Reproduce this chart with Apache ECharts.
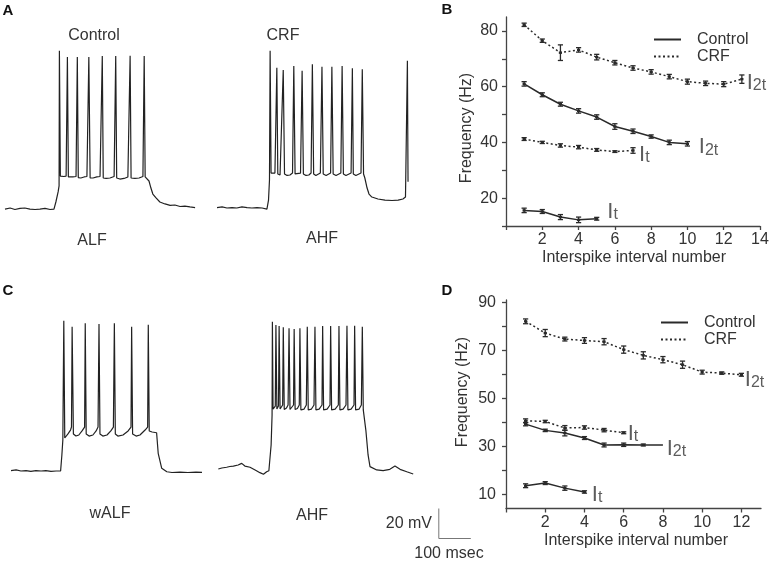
<!DOCTYPE html>
<html><head><meta charset="utf-8">
<script src="https://cdn.jsdelivr.net/npm/echarts@6/dist/echarts.min.js"></script>
<style>html,body{margin:0;padding:0;background:#fff}#c{width:777px;height:562px}</style>
</head><body><div id="c"></div>
<script>
// ---------- Voltage traces: [time (ms), membrane potential (mV)] ----------
const traceA_Control = [[0,-72.7],[16,-72],[31,-73],[47,-72.3],[62,-72],[78,-72.7],[94,-73],[109,-72.7],[125,-72.3],[141,-73],[153,-72.7],
[159,-68],[166,-61.3],[169,-57.3],[170,32.9],[173,-50.7],[178,-51.7],[184,-51],[191,-50.7],[195,28.7],[198,-51.3],[203,-52],[212,-51.3],[222,-51],[226,28.7],[229,-51.7],[237,-52],[247,-51.3],[256,-51],[262,28.7],[266,-52],[275,-52],[287,-51.3],[297,-51],[304,29.3],[307,-52],[316,-52.3],[328,-52],[341,-51],[346,29.3],[349,-52],[359,-52.7],[372,-52.3],[384,-51.3],[391,29.5],[394,-52],[406,-52.3],[419,-52],[431,-51],[435,29.3],[438,-51.3],[444,-52],[450,-54],[456,-58.7],[462,-62.7],[472,-65.3],[484,-68],[500,-69.3],[516,-70.3],[531,-70],[547,-71],[562,-70.7],[578,-71.3],[594,-71.7]];
const traceA_CRF = [[0,-71.7],[16,-71.3],[31,-72],[47,-71.7],[62,-72],[78,-71.3],[94,-71.7],[109,-72],[125,-71.7],[141,-72],[156,-72.7],[161,-66.7],[164,-53.3],[166,32.9],[169,-48.7],[175,-49.3],[181,-48.7],[187,21.5],[190,-49.3],[197,-50],[203,-49],[207,20],[211,-49.3],[219,-50.3],[228,-50],[236,-48.7],[240,22.7],[244,-49.3],[250,-50.3],[261,-48.7],[266,19.5],[270,-49.3],[278,-50.3],[287,-50],[294,-48.7],[298,23.8],[302,-49.3],[309,-50.3],[323,-48.7],[328,22.2],[332,-49.3],[341,-50.3],[355,-48.7],[359,22.2],[363,-49.3],[372,-50.3],[387,-48.7],[391,22.7],[395,-49.3],[403,-50.3],[419,-48.7],[423,21.1],[426,-49.3],[434,-50.3],[450,-48.7],[454,20.5],[458,-49.3],[462,-52],[469,-58.7],[475,-62.7],[484,-64.7],[503,-66],[525,-66.7],[547,-67],[566,-66.7],[581,-66],[589,-64.7],[595,26.2],[597,-54.5]];
const traceC_Control = [[0,-73.8],[16,-73.3],[31,-74],[47,-73.7],[62,-74.3],[78,-73.7],[94,-74],[109,-73.7],[125,-74.3],[141,-74],[155,-74],[159,-63.3],[162,-53.3],[165,26.2],[168,-52],[172,-51.3],[178,-49.3],[186,-46.7],[189,-44.7],[191,22.2],[195,-49.3],[203,-50.7],[212,-50],[222,-47.3],[230,-44.7],[232,24.5],[235,-49.3],[244,-50.7],[256,-50],[266,-47.3],[272,-44.7],[275,24],[278,-49.3],[287,-50.7],[300,-50],[312,-47.3],[320,-44.7],[323,24.5],[326,-49.3],[334,-50.7],[350,-50],[366,-47.3],[375,-44.7],[377,22.2],[380,-49.3],[391,-50.7],[403,-50],[419,-46.7],[427,-44.7],[429,23.5],[432,-47.3],[441,-48],[455,-48.5],[460,-62.2],[471,-72.2],[487,-74.5],[503,-75],[528,-74.7],[553,-75],[578,-74.7],[597,-74.9]];
const traceC_CRF = [[1,-72.7],[12,-72],[27,-71.5],[37,-71],[48,-70.7],[63,-70],[74,-68.9],[84,-70.7],[100,-71.5],[116,-73.3],[131,-75.1],[142,-76.2],[152,-74.5],[159,-73.8],[166,-56.7],[169,-36.7],
[170,25.5],[172,-32.7],[179,-30.7],[181,23.3],[184,-32.7],[189,-30.7],[191,22.7],[194,-32.7],[202,-30],[204,21.8],[207,-33],[214,-32],[219,-30],[222,21.1],[225,-33],[231,-32.3],[236,-30],[238,20.7],[241,-33],[248,-32.3],[254,-30],[256,21.1],[259,-33.3],[269,-32.7],[276,-30],[279,22.2],[282,-33.3],[292,-32.7],[300,-30],[303,22.2],[306,-33.3],[316,-32.7],[325,-30],[327,22.7],[330,-33.3],[341,-32.7],[350,-30],[352,22.7],[355,-33.3],[366,-32.7],[376,-30],[378,22.7],[381,-33.3],[391,-32.7],[400,-30],[403,22.9],[406,-33.3],[416,-32.7],[425,-30],[427,22.9],[430,-33.3],[441,-32.7],[448,-30],[451,22.2],[454,-33.3],[458,-34],[462,-46.7],[469,-63.3],[475,-71.1],[496,-73.3],[516,-73.8],[537,-72.9],[553,-70.7],[569,-72.9],[590,-74.5],[610,-76]];
// scale bar: 100 ms x 20 mV
const scaleBarMs = 100, scaleBarMv = 20;
const scaleBarCorner = [690, -119];

// ---------- Panel B: frequency (Hz) per interspike interval (1..n) ----------
const bCtrlI2t    = [61.0, 57.1, 53.7, 51.3, 49.1, 45.7, 44.0, 42.1, 40.0, 39.5];
const bCtrlI2tErr = [0.8, 0.7, 0.7, 0.8, 0.8, 1.0, 0.8, 0.6, 0.8, 0.8];
const bCtrlIt     = [15.6, 15.2, 13.2, 12.2, 12.6];
const bCtrlItErr  = [0.8, 0.7, 0.9, 1.0, 0.5];
const bCrfI2t     = [82.2, 76.5, 72.2, 73.2, 70.6, 68.6, 66.7, 65.3, 63.6, 61.8, 61.2, 60.9, 62.7];
const bCrfI2tErr  = [0.6, 0.6, 2.8, 0.8, 1.0, 0.8, 0.8, 0.8, 0.8, 0.9, 0.8, 0.9, 1.5];
const bCrfIt      = [41.2, 40.0, 38.9, 38.3, 37.3, 36.7, 37.1];
const bCrfItErr   = [0.5, 0.4, 0.6, 0.6, 0.5, 0.3, 1.0];
const bXLabels = [2, 4, 6, 8, 10, 12, 14];
const bXTicks  = [0, 2, 4, 6, 8, 10, 12, 14];
const bYLabels = [20, 40, 60, 80];
const bYTicks  = [10, 20, 30, 40, 50, 60, 70, 80];

// ---------- Panel D ----------
const dCrfI2t     = [82.1, 77.2, 74.7, 74.1, 73.6, 70.3, 67.9, 66.1, 64.0, 60.9, 60.5, 59.8];
const dCrfI2tErr  = [1.0, 1.5, 0.8, 1.2, 1.3, 1.5, 1.5, 1.3, 1.5, 0.8, 0.5, 0.6];
const dCrfIt      = [40.6, 40.3, 37.6, 37.8, 36.7, 35.6];
const dCrfItErr   = [0.8, 0.5, 1.0, 0.7, 0.7, 0.4];
const dCtrlI2t    = [39.2, 36.6, 35.5, 33.4, 30.5, 30.6, 30.5, 30.5];
const dCtrlI2tErr = [0.7, 0.5, 1.2, 0.6, 0.8, 0.7, 0.4, null];
const dCtrlIt     = [13.5, 14.6, 12.5, 10.9];
const dCtrlItErr  = [0.8, 0.6, 0.9, 0.5];
const dXLabels = [2, 4, 6, 8, 10, 12];
const dXTicks  = [0, 2, 4, 6, 8, 10, 12];
const dYLabels = [10, 30, 50, 70, 90];
const dYTicks  = [10, 20, 30, 40, 50, 60, 70, 80, 90];

const FONT = 'Liberation Sans, Arial, sans-serif';
const TXT = '#333';
const INK = '#2a2a2a';

const chart = echarts.init(document.getElementById('c'), null, {renderer: 'canvas'});

function seq(vals) { return vals.map((v, i) => [i + 1, v]); }
function errData(vals, errs) {
  const out = [];
  vals.forEach((v, i) => { if (errs[i] != null) out.push([i + 1, v - errs[i], v + errs[i], v]); });
  return out;
}
function renderErr(params, api) {
  const x = api.value(0);
  const pLo = api.coord([x, api.value(1)]);
  const pHi = api.coord([x, api.value(2)]);
  const pM = api.coord([x, api.value(3)]);
  const w = 2.6;
  const st = {stroke: INK, lineWidth: 1.3};
  return {type: 'group', children: [
    {type: 'line', shape: {x1: pLo[0], y1: pLo[1], x2: pHi[0], y2: pHi[1]}, style: st},
    {type: 'line', shape: {x1: pLo[0] - w, y1: pLo[1], x2: pLo[0] + w, y2: pLo[1]}, style: st},
    {type: 'line', shape: {x1: pHi[0] - w, y1: pHi[1], x2: pHi[0] + w, y2: pHi[1]}, style: st},
    {type: 'rect', shape: {x: pM[0] - 1.6, y: pM[1] - 1.2, width: 3.2, height: 2.4}, style: {fill: INK}}
  ]};
}
const richSub = {
  I: {fontSize: 22, fontFamily: FONT, color: TXT, verticalAlign: 'bottom', lineHeight: 22},
  s: {fontSize: 16, fontFamily: FONT, color: TXT, verticalAlign: 'bottom', lineHeight: 18}
};
// curve name tags placed in data coordinates of each panel
function tag(g, coord, sub) {
  return {type: 'scatter', xAxisIndex: g, yAxisIndex: g, data: [coord], symbol: 'circle', symbolSize: 1,
    itemStyle: {color: 'rgba(0,0,0,0)'}, silent: true, z: 5,
    label: {show: true, position: 'right', distance: 0, formatter: '{I|I}{s|' + sub + '}', rich: richSub}};
}
const solid = {color: INK, width: 1.5, type: 'solid'};
const dotted = {color: INK, width: 1.5, type: [2, 2.5]};

function freqLine(name, g, vals, style) {
  return {name: name, type: 'line', xAxisIndex: g, yAxisIndex: g, data: seq(vals), symbol: 'none',
    lineStyle: style, silent: true, z: 2};
}
function errSeries(g, vals, errs) {
  return {name: 'err', type: 'custom', xAxisIndex: g, yAxisIndex: g, data: errData(vals, errs),
    renderItem: renderErr, encode: {x: 0, y: [1, 2]}, silent: true, z: 3};
}
function traceSeries(g, data) {
  return {type: 'line', xAxisIndex: g, yAxisIndex: g, data: data, symbol: 'none', silent: true,
    lineStyle: {color: '#222', width: 1.2}};
}

function freqX(g, max, ticks, labels) {
  return {type: 'value', gridIndex: g, min: 0, max: max,
    axisLine: {onZero: false, lineStyle: {color: '#444', width: 1.3}},
    axisTick: {show: true, length: 4, inside: false, customValues: ticks, lineStyle: {color: '#444', width: 1.3}},
    axisLabel: {customValues: labels, fontSize: 16, color: TXT, fontFamily: FONT, margin: 6},
    splitLine: {show: false}};
}
function freqY(g, min, max, ticks, labels, margin) {
  return {type: 'value', gridIndex: g, min: min, max: max,
    axisLine: {show: true, onZero: false, lineStyle: {color: '#444', width: 1.3}},
    axisTick: {show: true, length: 4, customValues: ticks, lineStyle: {color: '#444', width: 1.3}},
    axisLabel: {customValues: labels, fontSize: 16, color: TXT, fontFamily: FONT, margin: margin},
    splitLine: {show: false}};
}
function hidden(g, min, max) { return {type: 'value', gridIndex: g, min: min, max: max, show: false}; }

function txt(x, y, s, opts) {
  return {type: 'text', x: x, y: y, silent: true,
    style: Object.assign({text: s, font: '16px ' + FONT, fill: TXT, align: 'center', verticalAlign: 'middle'}, (opts || {}))};
}

const legendCommon = {
  orient: 'vertical', itemWidth: 27, itemHeight: 10, itemGap: 0, selectedMode: false, padding: 0,
  data: ['Control', 'CRF'], itemStyle: {opacity: 0},
  textStyle: {fontSize: 16, color: TXT, fontFamily: FONT, lineHeight: 17, padding: [0, 0, 0, 11]}
};

const option = {
  animation: false,
  textStyle: {fontFamily: FONT},
  grid: [
    {left: 5, top: 40, width: 195, height: 240},
    {left: 217, top: 40, width: 213, height: 240},
    {left: 11, top: 300, width: 194, height: 240},
    {left: 218, top: 300, width: 262, height: 240},
    {left: 506, top: 17, width: 254, height: 209},
    {left: 506, top: 300, width: 255, height: 208.5}
  ],
  xAxis: [
    hidden(0, 0, 609.375), hidden(1, 0, 665.625), hidden(2, 0, 606.25), hidden(3, 0, 818.75),
    freqX(4, 14, bXTicks, bXLabels), freqX(5, 13, dXTicks, dXLabels)
  ],
  yAxis: [
    hidden(0, -120, 40), hidden(1, -120, 40), hidden(2, -120, 40), hidden(3, -120, 40),
    freqY(4, 10, 85, bYTicks, bYLabels, 8), freqY(5, 4, 91, dYTicks, dYLabels, 10)
  ],
  legend: [
    Object.assign({left: 653, top: 31}, legendCommon),
    Object.assign({left: 660, top: 314}, legendCommon)
  ],
  series: [
    traceSeries(0, traceA_Control), traceSeries(1, traceA_CRF),
    traceSeries(2, traceC_Control), traceSeries(3, traceC_CRF),
    {type: 'line', xAxisIndex: 3, yAxisIndex: 3, symbol: 'none', silent: true,
      lineStyle: {color: '#777', width: 1},
      data: [[scaleBarCorner[0], scaleBarCorner[1] + scaleBarMv], scaleBarCorner,
             [scaleBarCorner[0] + scaleBarMs, scaleBarCorner[1]]]},
    // Panel B
    freqLine('Control', 4, bCtrlI2t, solid),
    freqLine('Control', 4, bCtrlIt, solid),
    freqLine('CRF', 4, bCrfI2t, dotted),
    freqLine('CRF', 4, bCrfIt, dotted),
    errSeries(4, bCtrlI2t, bCtrlI2tErr), errSeries(4, bCtrlIt, bCtrlItErr),
    errSeries(4, bCrfI2t, bCrfI2tErr), errSeries(4, bCrfIt, bCrfItErr),
    tag(4, [10.6, 38.2], '2t'), tag(4, [5.56, 15], 't'),
    tag(4, [13.24, 61.5], '2t'), tag(4, [7.31, 35.6], 't'),
    // Panel D
    freqLine('Control', 5, dCtrlI2t, solid),
    freqLine('Control', 5, dCtrlIt, solid),
    freqLine('CRF', 5, dCrfI2t, dotted),
    freqLine('CRF', 5, dCrfIt, dotted),
    errSeries(5, dCtrlI2t, dCtrlI2tErr), errSeries(5, dCtrlIt, dCtrlItErr),
    errSeries(5, dCrfI2t, dCrfI2tErr), errSeries(5, dCrfIt, dCrfItErr),
    tag(5, [8.17, 28.9], '2t'), tag(5, [4.35, 9.7], 't'),
    tag(5, [12.15, 57.7], '2t'), tag(5, [6.18, 35.2], 't')
  ],
  graphic: {elements: [
    txt(8, 11, 'A', {font: 'bold 15px ' + FONT, fill: '#111'}),
    txt(447, 10, 'B', {font: 'bold 15px ' + FONT, fill: '#111'}),
    txt(8, 291, 'C', {font: 'bold 15px ' + FONT, fill: '#111'}),
    txt(447, 291, 'D', {font: 'bold 15px ' + FONT, fill: '#111'}),
    txt(94, 36, 'Control'), txt(283, 36, 'CRF'),
    txt(92, 241, 'ALF'), txt(322, 239, 'AHF'),
    txt(110, 514, 'wALF'), txt(312, 516, 'AHF'),
    txt(432, 524, '20 mV', {align: 'right'}),
    txt(449, 554, '100 msec'),
    txt(634, 258, 'Interspike interval number'),
    txt(636, 541, 'Interspike interval number'),
    Object.assign(txt(467, 128, 'Frequency (Hz)'), {rotation: Math.PI / 2}),
    Object.assign(txt(463, 392, 'Frequency (Hz)'), {rotation: Math.PI / 2})
  ]}
};
chart.setOption(option);
</script></body></html>
